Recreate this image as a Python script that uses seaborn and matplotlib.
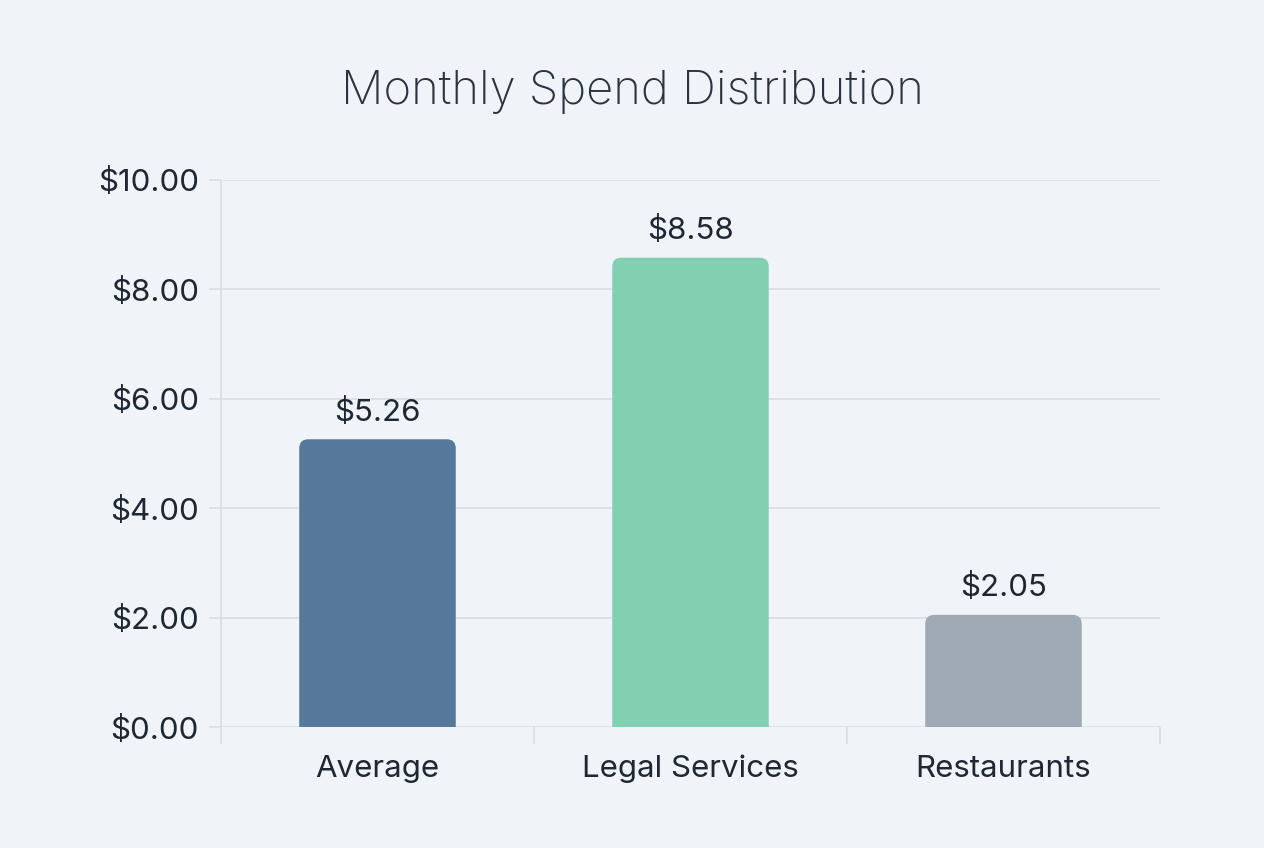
import numpy as np
import pandas as pd
import matplotlib
matplotlib.use("Agg")
import matplotlib.pyplot as plt
import seaborn as sns
from matplotlib.patches import FancyBboxPatch
from matplotlib.ticker import FuncFormatter, FixedLocator

# data
categories = ["Average", "Legal Services", "Restaurants"]
spend = [5.26, 8.58, 2.05]
bar_colors = ["#56789a", "#82cfb2", "#a0aab5"]

BG = "#f0f4f9"
GRID = "#d9dee5"
TEXT = "#1f2733"

sns.set_theme(style="white")
plt.rcParams["font.family"] = ["Inter", "DejaVu Sans"]

df = pd.DataFrame({"category": categories, "spend": spend})

fig = plt.figure(figsize=(12.64, 8.48), dpi=100, facecolor=BG)
ax = fig.add_axes([221 / 1264, 1 - 727 / 848, (1160 - 221) / 1264, (727 - 180) / 848])
ax.set_facecolor(BG)

sns.barplot(data=df, x="category", y="spend", hue="category", palette=bar_colors,
            saturation=1, width=0.5, legend=False, ax=ax, zorder=3)

ax.set_xlim(-0.5, 2.5)
ax.set_ylim(0, 10)

# swap the plain bars for ones with rounded tops; the bottom corners sit
# below y=0 and get clipped by the axes
px_x = 3.0 / (1160 - 221)
px_y = 10.0 / (727 - 180)
r = 9
for p, val in zip(list(ax.patches), spend):
    x0, w, c = p.get_x(), p.get_width(), p.get_facecolor()
    p.remove()
    rr = r * px_x
    ax.add_patch(FancyBboxPatch((x0, -1), w, val + 1,
                                boxstyle=f"round,pad=0,rounding_size={rr}",
                                mutation_aspect=(r * px_y) / rr,
                                facecolor=c, edgecolor="none", zorder=3))
    ax.annotate(f"${val:.2f}", (x0 + w / 2, val), xytext=(0, 9),
                textcoords="offset points", ha="center", va="bottom",
                fontsize=22.5, color=TEXT)

# axes styling
for s in ["top", "right", "bottom"]:
    ax.spines[s].set_visible(False)
ax.spines["left"].set_color(GRID)
ax.spines["left"].set_linewidth(1.2)
ax.set_yticks(np.arange(0, 11, 2))
ax.yaxis.set_major_formatter(FuncFormatter(lambda v, _: f"${v:.2f}"))
ax.grid(axis="y", color=GRID, linewidth=1.2, zorder=0)
ax.tick_params(axis="y", length=9, width=1.2, color=GRID, pad=7,
               labelsize=22.5, labelcolor=TEXT, left=True)
ax.tick_params(axis="x", which="major", length=0, pad=20, labelsize=22.5, labelcolor=TEXT)
ax.xaxis.set_minor_locator(FixedLocator([-0.5, 0.5, 1.5, 2.5]))
ax.tick_params(axis="x", which="minor", length=12, width=1.2, color=GRID, bottom=True)
ax.set_xlabel("")
ax.set_ylabel("")

fig.text(0.5, 1 - 92 / 848, "Monthly Spend Distribution", ha="center", va="center",
         fontsize=34, fontweight="light", color="#2b3340")

fig.savefig("out.png", dpi=100, facecolor=BG)
